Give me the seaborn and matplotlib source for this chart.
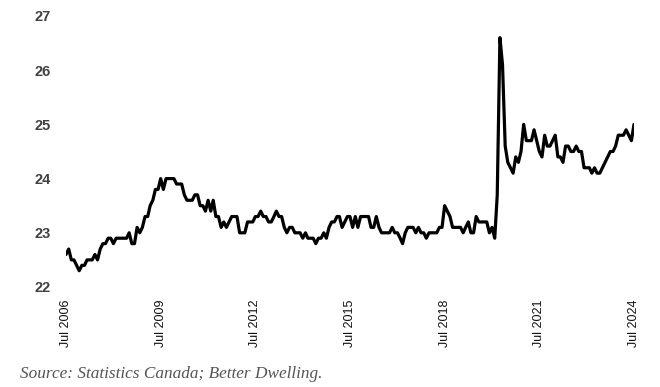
import pandas as pd
import seaborn as sns
import matplotlib.pyplot as plt

# monthly series, Jul 2006 to Jul 2024
start_month = "2006-07-01"
values = [
    22.6, 22.7, 22.5, 22.5, 22.4, 22.3, 22.4, 22.4, 22.5, 22.5, 22.5, 22.6,
    22.5, 22.7, 22.8, 22.8, 22.9, 22.9, 22.8, 22.9, 22.9, 22.9, 22.9, 22.9,
    23.0, 22.8, 22.8, 23.1, 23.0, 23.1, 23.3, 23.3, 23.5, 23.6, 23.8, 23.8,
    24.0, 23.8, 24.0, 24.0, 24.0, 24.0, 23.9, 23.9, 23.9, 23.7, 23.6, 23.6,
    23.6, 23.7, 23.7, 23.5, 23.5, 23.4, 23.6, 23.4, 23.6, 23.3, 23.3, 23.1,
    23.2, 23.1, 23.2, 23.3, 23.3, 23.3, 23.0, 23.0, 23.0, 23.2, 23.2, 23.2,
    23.3, 23.3, 23.4, 23.3, 23.3, 23.2, 23.2, 23.3, 23.4, 23.3, 23.3, 23.1,
    23.0, 23.1, 23.1, 23.0, 23.0, 23.0, 22.9, 23.0, 22.9, 22.9, 22.9, 22.8,
    22.9, 22.9, 23.0, 22.9, 23.1, 23.2, 23.2, 23.3, 23.3, 23.1, 23.2, 23.3,
    23.3, 23.1, 23.3, 23.1, 23.3, 23.3, 23.3, 23.3, 23.1, 23.1, 23.3, 23.1,
    23.0, 23.0, 23.0, 23.0, 23.1, 23.0, 23.0, 22.9, 22.8, 23.0, 23.1, 23.1,
    23.1, 23.0, 23.1, 23.0, 23.0, 22.9, 23.0, 23.0, 23.0, 23.0, 23.1, 23.1,
    23.5, 23.4, 23.3, 23.1, 23.1, 23.1, 23.1, 23.0, 23.1, 23.2, 23.0, 23.0,
    23.3, 23.2, 23.2, 23.2, 23.2, 23.0, 23.1, 22.9, 23.7, 26.6, 26.1, 24.6,
    24.3, 24.2, 24.1, 24.4, 24.3, 24.5, 25.0, 24.7, 24.7, 24.7, 24.9, 24.7,
    24.5, 24.4, 24.8, 24.6, 24.6, 24.7, 24.8, 24.4, 24.4, 24.3, 24.6, 24.6,
    24.5, 24.5, 24.6, 24.5, 24.5, 24.2, 24.2, 24.2, 24.1, 24.2, 24.1, 24.1,
    24.2, 24.3, 24.4, 24.5, 24.5, 24.6, 24.8, 24.8, 24.8, 24.9, 24.8, 24.7,
    25.0,
]
tick_years = [2006, 2009, 2012, 2015, 2018, 2021, 2024]
y_ticks = [22, 23, 24, 25, 26, 27]
source_note = "Source: Statistics Canada; Better Dwelling."

df = pd.DataFrame({
    "month": pd.date_range(start_month, periods=len(values), freq="MS"),
    "value": values,
})

sns.set_style("white")
plt.rcParams["font.family"] = ["Liberation Sans", "DejaVu Sans"]

fig = plt.figure(figsize=(6.6, 3.87), dpi=100)
ax = fig.add_axes([0.1, 0.2584, 0.8606, 0.7003])
sns.lineplot(data=df, x="month", y="value", color="black", linewidth=2.3, ax=ax)

ticks = [pd.Timestamp(f"{y}-07-01") for y in tick_years]
ax.set_xticks(ticks)
ax.set_xticklabels([f"Jul {y}" for y in tick_years], rotation=90, fontsize=9, color="#111111")
ax.set_xlim(df["month"].iloc[0], df["month"].iloc[-1])
ax.set_ylim(22, 27)
ax.set_yticks(y_ticks)
ax.set_yticklabels([str(v) for v in y_ticks], fontsize=10.5, fontweight="bold", color="#404040")
ax.tick_params(axis="both", length=0)
ax.tick_params(axis="y", pad=11)
ax.tick_params(axis="x", pad=9)
ax.set_xlabel("")
ax.set_ylabel("")
for s in ax.spines.values():
    s.set_visible(False)

fig.text(0.03, 0.022, source_note, fontsize=12.4, style="italic", color="#555555",
         family=["Liberation Serif", "DejaVu Serif"])

fig.savefig("out.png", dpi=100)
